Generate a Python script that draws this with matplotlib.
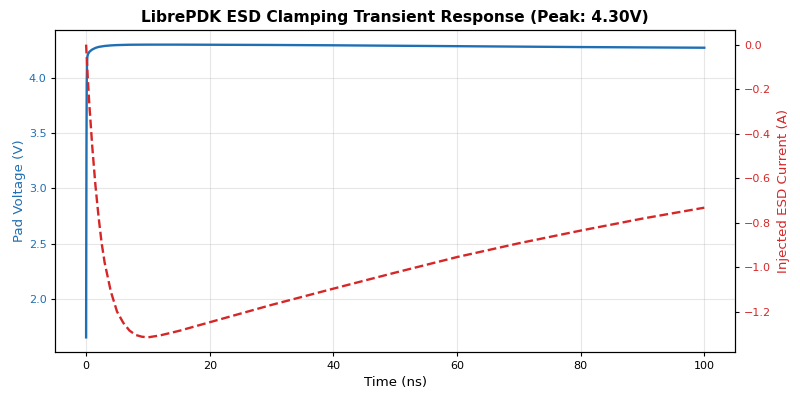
import matplotlib
matplotlib.use('Agg')
import matplotlib.pyplot as plt

# values
time_v = [0.0, 0.03, 0.06, 0.1, 0.15, 0.2, 0.3, 0.5, 0.8, 1.0, 1.5, 2.0, 3.0,
          4.0, 5.0, 7.0, 10.0, 15.0, 20.0, 30.0, 40.0, 50.0, 60.0, 70.0,
          80.0, 90.0, 100.0]
pad_voltage = [1.65, 2.6, 3.4, 3.95, 4.14, 4.19, 4.215, 4.235, 4.25, 4.258,
               4.272, 4.281, 4.29, 4.295, 4.298, 4.301, 4.302, 4.302, 4.301,
               4.299, 4.296, 4.292, 4.288, 4.284, 4.28, 4.277, 4.274]

time_i = [0.0, 0.25, 0.5, 1.0, 1.5, 2.0, 2.5, 3.0, 4.0, 5.0, 6.0, 7.0, 8.0,
          9.0, 10.0, 12.0, 15.0, 20.0, 30.0, 40.0, 50.0, 60.0, 70.0, 80.0,
          90.0, 100.0]
esd_current = [0.0, -0.14, -0.26, -0.46, -0.63, -0.77, -0.89, -0.98, -1.11,
               -1.20, -1.25, -1.285, -1.305, -1.313, -1.316, -1.307, -1.287,
               -1.248, -1.170, -1.097, -1.025, -0.955, -0.893, -0.836,
               -0.782, -0.733]

peak_v = 4.30


def main():
    plt.rcParams['xtick.labelsize'] = 8
    plt.rcParams['ytick.labelsize'] = 8
    plt.rcParams['xtick.major.size'] = 2.8
    plt.rcParams['ytick.major.size'] = 2.8
    plt.rcParams['axes.linewidth'] = 0.8

    fig, ax1 = plt.subplots(figsize=(8, 4), dpi=100)
    blue = '#1f6fb4'
    red = '#d62728'

    ax1.plot(time_v, pad_voltage, color=blue, linewidth=1.7)
    ax1.set_xlabel('Time (ns)', fontsize=9.6)
    ax1.set_ylabel('Pad Voltage (V)', color=blue, fontsize=9.6, labelpad=2)
    ax1.tick_params(axis='y', labelcolor=blue)
    ax1.grid(True, alpha=0.3)

    ax2 = ax1.twinx()
    ax2.plot(time_i, esd_current, color=red, linestyle='--', linewidth=1.7)
    ax2.set_ylabel('Injected ESD Current (A)', color=red, fontsize=9.6)
    ax2.tick_params(axis='y', labelcolor=red)

    ax1.set_title('LibrePDK ESD Clamping Transient Response (Peak: {:.2f}V)'.format(peak_v),
                  fontsize=11.2, fontweight='bold')
    fig.subplots_adjust(left=0.069, right=0.919, top=0.925, bottom=0.12)
    fig.savefig('out.png')


if __name__ == '__main__':
    main()
